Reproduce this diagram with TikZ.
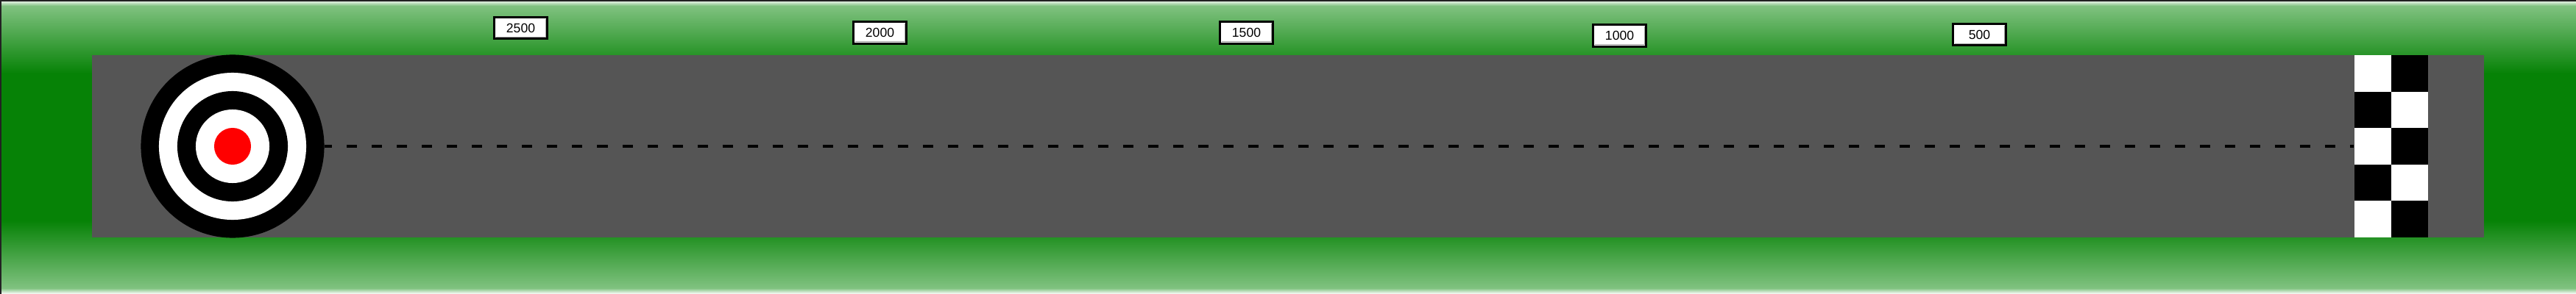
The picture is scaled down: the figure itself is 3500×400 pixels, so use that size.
\documentclass[tikz,border=0pt]{standalone}
\usepackage{fontspec}
\setmainfont{Liberation Sans}
\definecolor{grass}{RGB}{6,130,6}
\definecolor{grasslight}{RGB}{128,194,128}
\definecolor{asphalt}{RGB}{85,85,85}
\definecolor{frameline}{RGB}{34,34,34}

\begin{document}
\begin{tikzpicture}[x=0.01cm,y=-0.01cm,
  ring node/.style={circle,inner sep=0pt,draw=none},
  flag node/.style={rectangle,inner sep=0pt,fill=white,minimum width=1cm,minimum height=2.48cm},
  dist node/.style={rectangle,draw=black,line width=0.03cm,fill=white,inner sep=0pt,
    minimum width=0.72cm,minimum height=0.29cm,font=\fontsize{5}{6}\selectfont,
    path picture={\draw[gray!70,line width=0.01cm]
      ([shift={(0.025cm,0.025cm)}]path picture bounding box.south west) -|
      ([shift={(-0.025cm,-0.025cm)}]path picture bounding box.north east);}},
  lane/.style={line width=0.04cm,dash pattern=on 0.14cm off 0.2cm,dash phase=0.04cm}]

  \useasboundingbox (0,0) rectangle (3500,400);
  \fill[grass] (0,0) rectangle (3500,400);
  \shade[top color=white,bottom color=grasslight] (0,0) rectangle (3500,8);
  \shade[top color=grasslight,bottom color=grass] (0,8) rectangle (3500,100);
  \shade[top color=grass,bottom color=grasslight] (0,300) rectangle (3500,392);
  \shade[top color=grasslight,bottom color=white] (0,392) rectangle (3500,400);
  \draw[frameline,line width=0.015cm] (0.75,400) -- (0.75,0.75) -- (3500,0.75);

  \fill[asphalt] (125,75) rectangle (3375,323);

  \node[ring node,fill=black,minimum size=2.49cm] (ring1) at (316,199) {};
  \node[ring node,fill=white,minimum size=2cm] (ring2) at (ring1) {};
  \node[ring node,fill=black,minimum size=1.5cm] (ring3) at (ring1) {};
  \node[ring node,fill=white,minimum size=1cm] (ring4) at (ring1) {};
  \node[ring node,fill=red,minimum size=0.5cm] (bull) at (ring1) {};

  \node[flag node] (flag) at (3249,199) {};
  \foreach \r/\c in {0/1,1/0,2/1,3/0,4/1}
    \fill[black] ({3199+50*\c},{75+49.6*\r}) rectangle +(50,49.6);

  \draw[lane] (ring1.east) -- (flag.west);

  \node[dist node] (d2500) at (707.5,38) {2500};
  \node[dist node] (d2000) at (1195.5,44.5) {2000};
  \node[dist node] (d1500) at (1693.5,44.5) {1500};
  \node[dist node] (d1000) at (2200.5,48.5) {1000};
  \node[dist node] (d500) at (2689.5,47) {500};

\end{tikzpicture}
\end{document}
